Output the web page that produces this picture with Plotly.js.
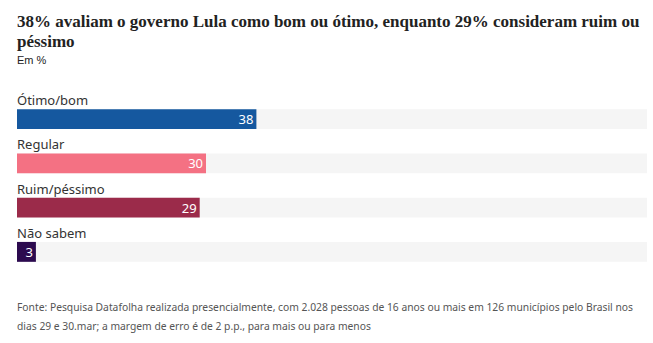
<!DOCTYPE html>
<html>
<head>
<meta charset="utf-8">
<script src="https://cdn.plot.ly/plotly-3.0.1.min.js"></script>
<style>html,body{margin:0;padding:0;background:#fff;}#chart{width:653px;height:343px;}</style>
</head>
<body>
<div id="chart"></div>
<script>
const categories = ["Ótimo/bom", "Regular", "Ruim/péssimo", "Não sabem"];
const values = [38, 30, 29, 3];
const colors = ["#15589f", "#f47183", "#9b2b4a", "#2c0a4f"];
const scaleMax = 100;
const titleLines = ["38% avaliam o governo Lula como bom ou ótimo, enquanto 29% consideram ruim ou", "péssimo"];
const subtitleText = "Em %";
const sourceLines = ["Fonte: Pesquisa Datafolha realizada presencialmente, com 2.028 pessoas de 16 anos ou mais em 126 municípios pelo Brasil nos",
                     "dias 29 e 30.mar; a margem de erro é de 2 p.p., para mais ou para menos"];

const H = 343, W = 653;
const mT = 97, mB = 69.3;
const plotH = H - mT - mB;
const py = px => (H - mB - px) / plotH; // pixel y from top -> paper y
const px = x => (x - 17) / (W - 17 - 6);

const barWidth = 0.45;
const bg = {
  type: "bar", orientation: "h",
  x: categories.map(() => scaleMax), y: categories,
  marker: {color: "#f5f5f5"}, width: barWidth,
  hoverinfo: "skip", showlegend: false
};
const main = {
  type: "bar", orientation: "h",
  x: values, y: categories,
  marker: {color: colors}, width: barWidth,
  text: values.map(String), textposition: "inside", insidetextanchor: "end", textangle: 0,
  constraintext: "none",
  textfont: {family: "Noto Sans, sans-serif", size: 13, color: "#ffffff"},
  cliponaxis: false, showlegend: false
};

const annotations = categories.map(c => ({
  x: 0, y: c, xref: "x", yref: "y", xanchor: "left", yanchor: "bottom",
  yshift: 8, xshift: -2, text: c, showarrow: false,
  font: {family: "Noto Sans, sans-serif", size: 13, color: "#333333"}
}));
titleLines.forEach((t, i) => annotations.push({
  x: px(17), y: py(22 + 20 * i), xref: "paper", yref: "paper", xanchor: "left", yanchor: "middle",
  xshift: -2, text: "<b>" + t + "</b>", showarrow: false,
  font: {family: "Liberation Serif, serif", size: 17, color: "#222"}
}));
annotations.push({
  x: px(17), y: py(60), xref: "paper", yref: "paper", xanchor: "left", yanchor: "middle",
  xshift: -2, text: subtitleText, showarrow: false,
  font: {family: "Liberation Sans Narrow, Liberation Sans, sans-serif", size: 11, color: "#222"}
});
sourceLines.forEach((t, i) => annotations.push({
  x: px(17), y: py(307 + 19 * i), xref: "paper", yref: "paper", xanchor: "left", yanchor: "middle",
  xshift: -2, text: t, showarrow: false,
  font: {family: "Noto Sans, sans-serif", size: 10.3, color: "#555"}
}));

const layout = {
  width: W, height: H,
  margin: {l: 17, r: 6, t: mT, b: mB},
  paper_bgcolor: "#fff", plot_bgcolor: "#fff",
  barmode: "overlay",
  xaxis: {range: [0, scaleMax], visible: false, fixedrange: true},
  yaxis: {type: "category", categoryarray: categories, autorange: false, range: [3.5, -0.5], visible: false},
  annotations: annotations
};

Plotly.newPlot("chart", [bg, main], layout, {displayModeBar: false, staticPlot: true});
</script>
</body>
</html>
